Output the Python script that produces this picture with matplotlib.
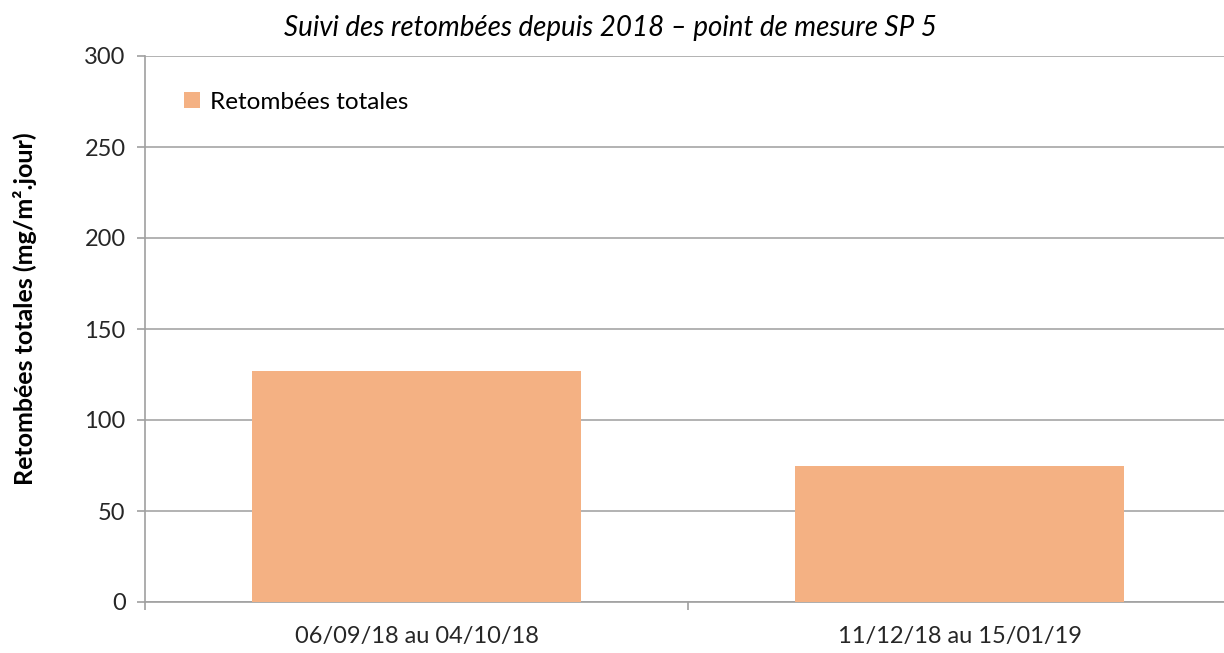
import matplotlib
matplotlib.use("Agg")
import matplotlib.pyplot as plt
from matplotlib.transforms import blended_transform_factory

categories = ["06/09/18 au 04/10/18", "11/12/18 au 15/01/19"]
values = [127, 75]
series_name = "Retombées totales"
title = "Suivi des retombées depuis 2018 – point de mesure SP 5"
ylabel = "Retombées totales (mg/m².jour)"
yticks = [0, 50, 100, 150, 200, 250, 300]

plt.rcParams['font.family'] = ['Lato', 'DejaVu Sans']

fig = plt.figure(figsize=(12.24, 6.53), dpi=100)
ax = fig.add_axes([145/1224, 51/653, 1086/1224, 546/653])

x = list(range(len(categories)))
ax.bar(x, values, width=0.605, color="#F4B183", zorder=3, label=series_name)
ax.set_xlim(-0.5, len(categories) - 0.5)
ax.set_ylim(0, 300)
ax.set_yticks(yticks)
ax.set_yticklabels([str(t) for t in yticks], fontsize=17, color="#262626")
ax.set_xticks(x)
ax.set_xticklabels(categories, fontsize=17, color="#262626")
ax.set_xticks([-0.5, 0.5, 1.5], minor=True)
ax.tick_params(axis='x', which='major', length=0, pad=17)
ax.tick_params(axis='x', which='minor', length=6, color="#A0A0A0", width=1.2)
ax.tick_params(axis='y', length=6, color="#A0A0A0", width=1.2, pad=8)

ax.grid(axis='y', color="#A6A6A6", linewidth=1.2, zorder=0)
for s in ['top', 'right']:
    ax.spines[s].set_visible(False)
for s in ['left', 'bottom']:
    ax.spines[s].set_color("#A0A0A0")
    ax.spines[s].set_linewidth(1.2)

ax.set_ylabel(ylabel, fontsize=18, fontweight='bold', color="#000000")
ax.yaxis.set_label_coords(25/1224, 0.537, transform=blended_transform_factory(fig.transFigure, ax.transAxes))
ax.yaxis.label.set_va('center')
fig.text(610/1224, 1 - 28/653, title, fontsize=20, style='italic', ha='center', va='center')

leg = ax.legend(loc='upper left', bbox_to_anchor=(0.016, 0.975), frameon=False,
                fontsize=17.5, handlelength=0.65, handleheight=0.65, handletextpad=0.4)

fig.savefig("out.png", dpi=100)
